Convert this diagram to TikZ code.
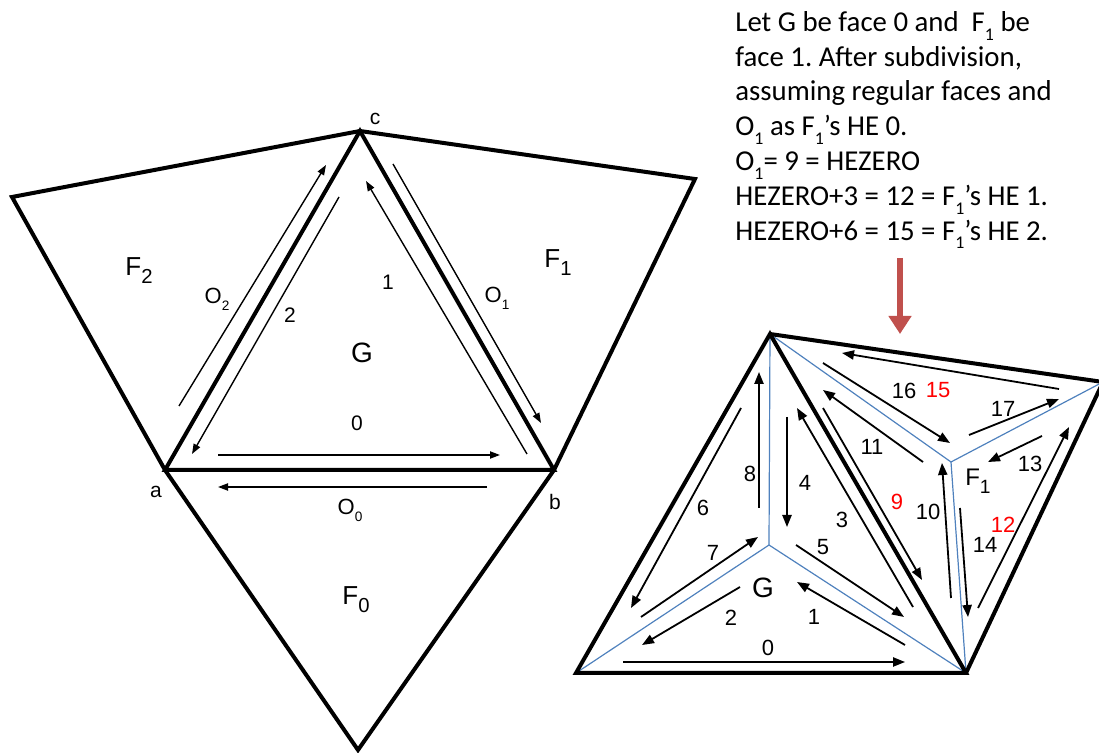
\documentclass[tikz,border=0pt]{standalone}
\usepackage{fontspec}
\setmainfont{Liberation Sans}
\newfontfamily\notefont{Carlito}
\usepackage{tikz}
\usetikzlibrary{arrows.meta}
\frenchspacing
\definecolor{spokeblue}{HTML}{4F81BD}
\definecolor{hintred}{HTML}{C0504D}
\newcommand{\lowidx}[2][0.62]{\raisebox{-0.3em}{\scalebox{#1}{#2}}}
\tikzset{
  rim/.style   ={line width=2pt, line join=miter},
  spoke/.style ={draw=spokeblue, line width=0.6pt},
  hel/.style   ={-{Triangle[length=5pt,width=3.6pt]}, line width=0.7pt},
  her/.style   ={-{Triangle[length=6pt,width=4.6pt]}, line width=0.9pt},
  hint/.style  ={draw=hintred, line width=2.8pt, -{Triangle[length=9pt,width=11pt]}},
  vlbl/.style  ={inner sep=0pt, font=\fontsize{10.5}{12}\selectfont},
  hlbl/.style  ={inner sep=0pt, font=\fontsize{10.5}{12}\selectfont},
  nlbl/.style  ={inner sep=0pt, font=\fontsize{11}{13}\selectfont},
  rlbl/.style  ={nlbl, text=red},
  flbl/.style  ={inner sep=0pt, anchor=base, font=\fontsize{13}{15}\selectfont},
  olbl/.style  ={inner sep=0pt, anchor=base, font=\fontsize{11}{13}\selectfont},
  glbl/.style  ={inner sep=0pt, font=\fontsize{14}{16}\selectfont},
  note/.style  ={inner sep=0pt, align=left, font=\notefont\fontsize{14.4}{17.4}\selectfont}
}

\begin{document}
\begin{tikzpicture}[x=0.5pt, y=-0.5pt]
\useasboundingbox (0,0) rectangle (1099,753);

% left: face G and its three neighbours
\coordinate (a)  at (165,470);
\coordinate (b)  at (554,470);
\coordinate (c)  at (360,131);
\coordinate (f2) at (12,197);
\coordinate (f1) at (695,179);
\coordinate (f0) at (358,750);

\draw[rim] (a) -- (b) -- (c) -- cycle;
\draw[rim] (a) -- (f2) -- (c);
\draw[rim] (c) -- (f1) -- (b);
\draw[rim] (a) -- (f0) -- (b);

\draw[hel] (218,455) -- (500,455);
\draw[hel] (487,487) -- (218,487);
\draw[hel] (527,454) -- (366,181);
\draw[hel] (393,164) -- (541,423);
\draw[hel] (339,197) -- (192,454);
\draw[hel] (179,406) -- (326,165);

\node[vlbl] (la) at (156,492) {a};
\node[vlbl] (lb) at (555,502) {b};
\node[vlbl] (lc) at (375,119) {c};
\node[hlbl] (h0) at (357,423) {0};
\node[hlbl] (h1) at (388,282) {1};
\node[hlbl] (h2) at (290,315) {2};
\node[glbl] (gL) at (362,353) {G};
\node[olbl] (o0) at (350,515) {O\lowidx{0}};
\node[olbl] (o1) at (497,303) {O\lowidx{1}};
\node[olbl] (o2) at (217,304) {O\lowidx{2}};
\node[flbl] (fa) at (356,605) {F\lowidx[0.78]{0}};
\node[flbl] (fb) at (558,268) {F\lowidx[0.78]{1}};
\node[flbl] (fc) at (139,276) {F\lowidx[0.78]{2}};

% note and pointer
\node[note, anchor=north west] (txt) at (735,11)
  {Let G be face 0 and \ F\lowidx{1} be\\
   face 1. After subdivision,\\
   assuming regular faces and\\
   O\lowidx{1} as F\lowidx{1}’s HE 0.\\
   O\lowidx{1}= 9 = HEZERO\\
   HEZERO+3 = 12 = F\lowidx{1}’s HE 1.\\
   HEZERO+6 = 15 = F\lowidx{1}’s HE 2.};
\coordinate (hintTop) at (900,258);
\coordinate (hintTip) at (900,334);
\draw[hint] (hintTop) -- (hintTip);

% right: after subdivision
\coordinate (gP) at (576,673);
\coordinate (gQ) at (966,673);
\coordinate (gT) at (770,334);
\coordinate (fR) at (1103,382);
\coordinate (gC) at (769,545);
\coordinate (fC) at (951,462);

\draw[spoke] (gC) -- (gP);
\draw[spoke] (gC) -- (gQ);
\draw[spoke] (gC) -- (gT);
\draw[spoke] (fC) -- (gT);
\draw[spoke] (fC) -- (gQ);
\draw[spoke] (fC) -- (fR);
\draw[rim] (gP) -- (gQ) -- (gT) -- cycle;
\draw[rim] (gT) -- (fR) -- (gQ);

\draw[her] (623,662) -- (905,662);
\draw[her] (905,645) -- (797,582);
\draw[her] (740,587) -- (642,645);
\draw[her] (913,607) -- (797,408);
\draw[her] (787,417) -- (787,527);
\draw[her] (796,545) -- (904,617);
\draw[her] (741,408) -- (631,608);
\draw[her] (641,617) -- (758,537);
\draw[her] (759,508) -- (759,372);
\draw[her] (823,408) -- (922,580);
\draw[her] (951,598) -- (942,463);
\draw[her] (923,462) -- (823,390);
\draw[her] (978,608) -- (1069,427);
\draw[her] (1042,436) -- (988,462);
\draw[her] (960,508) -- (968,617);
\draw[her] (1059,389) -- (842,353);
\draw[her] (823,363) -- (950,443);
\draw[her] (969,435) -- (1059,399);

\node[nlbl] (n0)  at (768,648)  {0};
\node[nlbl] (n1)  at (814,617)  {1};
\node[nlbl] (n2)  at (731,618)  {2};
\node[nlbl] (n3)  at (842,520)  {3};
\node[nlbl] (n4)  at (805,483)  {4};
\node[nlbl] (n5)  at (823,547)  {5};
\node[nlbl] (n6)  at (703,508)  {6};
\node[nlbl] (n7)  at (713,553)  {7};
\node[nlbl] (n8)  at (750,474)  {8};
\node[rlbl] (n9)  at (897,502)  {9};
\node[nlbl] (n10) at (928,512)  {10};
\node[nlbl] (n11) at (872,447)  {11};
\node[rlbl] (n12) at (1003,525) {12};
\node[nlbl] (n13) at (1030,464) {13};
\node[nlbl] (n14) at (985,545)  {14};
\node[rlbl] (n15) at (938,390)  {15};
\node[nlbl] (n16) at (904,391)  {16};
\node[nlbl] (n17) at (1003,409) {17};
\node[glbl] (gR)  at (763,588)  {G};
\node[olbl, font=\fontsize{12}{14}\selectfont] (fR1) at (978,486) {F\lowidx[0.8]{1}};
\end{tikzpicture}
\end{document}
